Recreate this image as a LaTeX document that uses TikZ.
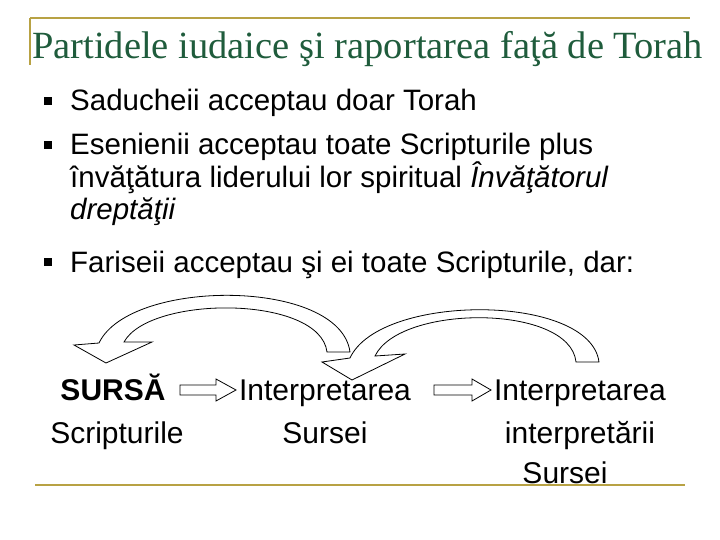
\documentclass[tikz,border=0pt]{standalone}
\usepackage{fontspec}
\setmainfont{Liberation Sans}
\newfontfamily\titlefont{Liberation Serif}
\definecolor{ttl}{HTML}{1F5C3C}
\definecolor{rule}{HTML}{B8A244}
\begin{document}
\begin{tikzpicture}[x=1pt,y=-1pt,
  txt/.style={font=\fontsize{29.5}{33}\selectfont,inner sep=0pt},
  btxt/.style={font=\fontsize{30}{33}\selectfont,inner sep=0pt},
  bul/.style={fill=black,minimum size=8pt,inner sep=0pt},
  hollow/.style={draw=black,fill=white,line width=0.8pt,line join=miter}]
\useasboundingbox (0,0) rectangle (720,540);
\draw[rule,line width=1.5pt] (30,18) -- (690,18) (30,18) -- (30,65);
\draw[rule,line width=1.5pt] (35,485) -- (685,485);
\node[anchor=base west,inner sep=0pt,text=ttl,font=\titlefont\fontsize{38.5}{40}\selectfont] (title) at (32,59) {Partidele iudaice şi raportarea faţă de Torah};
\node[bul] (b1) at (48,101) {};
\node[bul] (b2) at (48,145) {};
\node[bul] (b3) at (48,262) {};
\node[txt,anchor=base west] (t1) at (70,111) {Saducheii acceptau doar Torah};
\node[txt,anchor=base west] (t2) at (70,155) {Esenienii acceptau toate Scripturile plus};
\node[txt,anchor=base west] (t3) at (70,188) {învăţătura liderului lor spiritual \textit{Învăţătorul}};
\node[txt,anchor=base west] (t4) at (70,220) {\textit{dreptăţii}};
\node[txt,anchor=base west] (t5) at (70,272) {Fariseii acceptau şi ei toate Scripturile, dar:};
\node[btxt,anchor=base] (s1) at (113,400) {\textbf{SURSĂ}};
\node[btxt,anchor=base] (s2) at (117,443) {Scripturile};
\node[btxt,anchor=base] (i1) at (325,400) {Interpretarea};
\node[btxt,anchor=base] (i2) at (325,443) {Sursei};
\node[btxt,anchor=base] (j1) at (580,400) {Interpretarea};
\node[btxt,anchor=base] (j2) at (580,443) {interpretării};
\node[btxt,anchor=base] (j3) at (565,483) {Sursei};
% straight hollow arrows
\draw[hollow] (180,385) -- (216,385) -- (216,379) -- (236,390) -- (216,401) -- (216,395) -- (180,395) -- cycle;
\draw[hollow] (434,385) -- (472,385) -- (472,379) -- (491,390) -- (472,401) -- (472,395) -- (434,395) -- cycle;
% curved hollow arrows
\draw[hollow] (350,352) .. controls (340,278) and (130,278) .. (99,343) -- (74,345) -- (106,363) -- (152,342) -- (124,342) .. controls (150,295) and (320,295) .. (327,352) -- cycle;
\draw[hollow] (599,362) .. controls (590,293) and (380,293) .. (350,358) -- (322,362) -- (352,380) -- (405,354) -- (375,356) .. controls (400,304) and (570,304) .. (576,362) -- cycle;
\end{tikzpicture}
\end{document}
